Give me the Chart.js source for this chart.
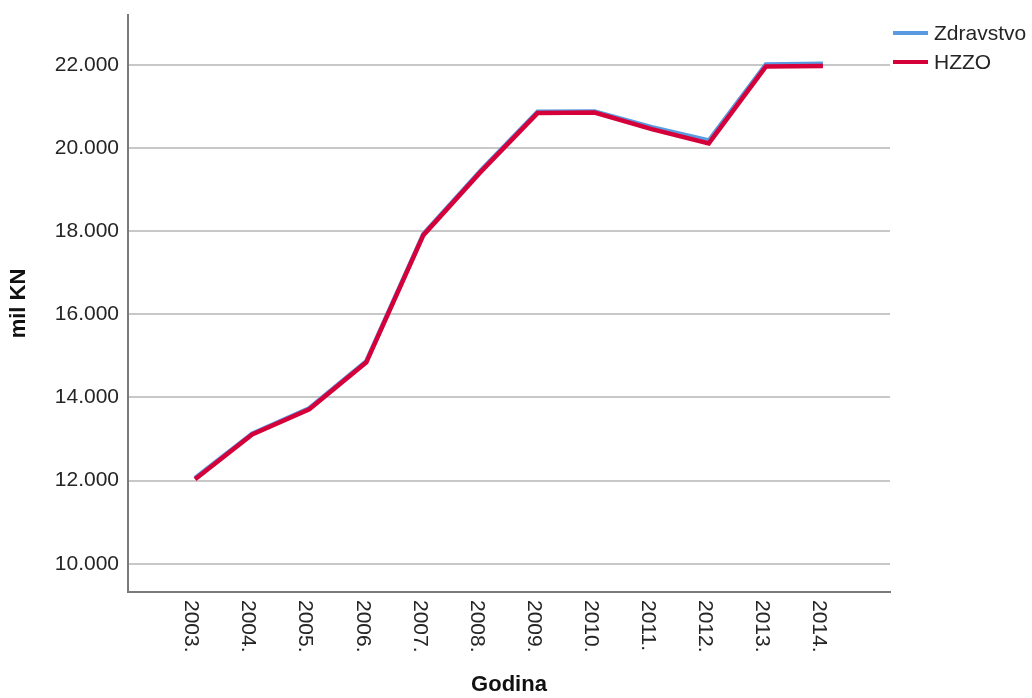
<!DOCTYPE html>
<html>
<head>
<meta charset="utf-8">
<script src="https://cdn.jsdelivr.net/npm/chart.js@4"></script>
<style>
html,body{margin:0;padding:0;background:#fff;}
#wrap{width:1032px;height:698px;position:relative;}
</style>
</head>
<body>
<div id="wrap"><canvas id="c"></canvas></div>
<script>
const years = [2003, 2004, 2005, 2006, 2007, 2008, 2009, 2010, 2011, 2012, 2013, 2014];
const yearLabels = ["2003.", "2004.", "2005.", "2006.", "2007.", "2008.", "2009.", "2010.", "2011.", "2012.", "2013.", "2014."];
const zdravstvo = [12060, 13130, 13740, 14870, 17930, 19450, 20870, 20880, 20500, 20180, 22010, 22030];
const hzzo = [12030, 13110, 13715, 14845, 17905, 19420, 20840, 20855, 20455, 20110, 21960, 21975];
const yTicks = [10000, 12000, 14000, 16000, 18000, 20000, 22000];
const seriesNames = ["Zdravstvo", "HZZO"];
const seriesColors = ["#5a9ae0", "#d5003a"];

const FONT = "'Liberation Sans', Arial, sans-serif";
const TEXT = "#252525";

function fmt(v) {
  const s = Math.round(v).toString();
  return s.replace(/\B(?=(\d{3})+(?!\d))/g, ".");
}

const xLabelsPlugin = {
  id: 'xLabels',
  afterDraw(chart) {
    const xs = chart.scales.x;
    const ctx = chart.ctx;
    ctx.save();
    ctx.font = "21px " + FONT;
    ctx.fillStyle = TEXT;
    ctx.textAlign = 'left';
    ctx.textBaseline = 'middle';
    years.forEach((yr, i) => {
      const x = xs.getPixelForValue(yr);
      ctx.save();
      ctx.translate(x - 4, xs.top + 8);
      ctx.rotate(Math.PI / 2);
      ctx.fillText(yearLabels[i], 0, 0);
      ctx.restore();
    });
    ctx.restore();
  }
};

const legendPlugin = {
  id: 'customLegend',
  afterDraw(chart) {
    const ctx = chart.ctx;
    const area = chart.chartArea;
    ctx.save();
    ctx.font = "21px " + FONT;
    ctx.textAlign = 'left';
    ctx.textBaseline = 'middle';
    seriesNames.forEach((name, i) => {
      const y = 33 + i * 29;
      const x0 = area.right + 3;
      ctx.strokeStyle = seriesColors[i];
      ctx.lineWidth = 4;
      ctx.beginPath();
      ctx.moveTo(x0, y);
      ctx.lineTo(x0 + 35, y);
      ctx.stroke();
      ctx.fillStyle = TEXT;
      ctx.fillText(name, x0 + 41, y + 1);
    });
    ctx.restore();
  }
};

new Chart(document.getElementById('c'), {
  type: 'line',
  data: {
    datasets: [
      {
        label: seriesNames[0],
        data: years.map((y, i) => ({x: y, y: zdravstvo[i]})),
        borderColor: seriesColors[0],
        backgroundColor: seriesColors[0],
        borderWidth: 4.5,
        pointRadius: 0,
        tension: 0,
        order: 1
      },
      {
        label: seriesNames[1],
        data: years.map((y, i) => ({x: y, y: hzzo[i]})),
        borderColor: seriesColors[1],
        backgroundColor: seriesColors[1],
        borderWidth: 4.5,
        pointRadius: 0,
        tension: 0,
        order: 0
      }
    ]
  },
  options: {
    responsive: true,
    maintainAspectRatio: false,
    animation: false,
    layout: {padding: {left: 0, top: 15, right: 142, bottom: 0}},
    plugins: {
      legend: {display: false},
      tooltip: {enabled: false}
    },
    scales: {
      x: {
        type: 'linear',
        min: 2001.825,
        max: 2015.175,
        afterFit(scale) { scale.height = 106; scale.paddingLeft = 0; scale.paddingRight = 0; },
        ticks: {display: false, stepSize: 1, includeBounds: false},
        grid: {display: false},
        border: {display: true, color: '#7a7a7a', width: 2},
        title: {
          display: true,
          text: 'Godina',
          color: '#111',
          font: {family: FONT, size: 22, weight: 'bold'},
          padding: {top: 0, bottom: 0}
        }
      },
      y: {
        type: 'linear',
        min: 9320,
        max: 23200,
        afterFit(scale) { scale.width = 128; scale.paddingTop = 0; scale.paddingBottom = 0; },
        afterBuildTicks(scale) { scale.ticks = yTicks.map(v => ({value: v})); },
        ticks: {
          padding: 9,
          color: TEXT,
          font: {family: FONT, size: 21},
          callback: (v) => fmt(v)
        },
        grid: {color: '#c8c8c8', lineWidth: 2, drawTicks: false},
        border: {display: true, color: '#7a7a7a', width: 2},
        title: {
          display: true,
          text: 'mil KN',
          color: '#111',
          font: {family: FONT, size: 22, weight: 'bold'},
          padding: {top: 6, bottom: 0}
        }
      }
    }
  },
  plugins: [xLabelsPlugin, legendPlugin]
});
</script>
</body>
</html>
